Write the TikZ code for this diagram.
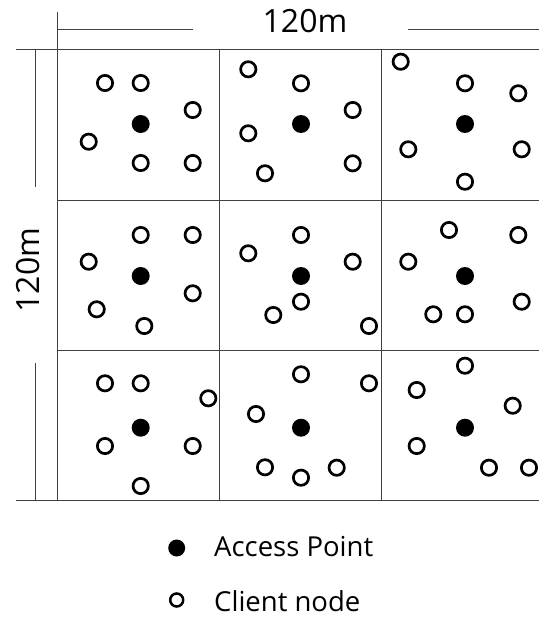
\documentclass[tikz,border=0pt]{standalone}
\usepackage{fontspec}
\setmainfont{Open Sans}
\begin{document}
\begin{tikzpicture}[x=1pt,y=-1pt,
  gridline/.style={draw=black!75,line width=1pt},
  client/.style={circle,draw=black,line width=2.7pt,minimum size=15.3pt,inner sep=0pt},
  ap/.style={circle,fill=black,minimum size=18pt,inner sep=0pt},
  lbl/.style={font=\fontsize{32}{36}\selectfont,inner sep=0pt},
  leg/.style={font=\fontsize{27.5}{30}\selectfont,inner sep=0pt,anchor=base west}]
\useasboundingbox (0,0) rectangle (539,618);
% grid
\draw[gridline] (16,50) -- (539,50);
\draw[gridline] (57,200) -- (539,200);
\draw[gridline] (57,350.5) -- (539,350.5);
\draw[gridline] (16,500) -- (539,500);
\draw[gridline] (57,12) -- (57,500);
\draw[gridline] (219,50) -- (219,500);
\draw[gridline] (381.5,50) -- (381.5,500);
% dimension lines
\draw[gridline] (57,30) -- (193,30);
\draw[gridline] (408,30) -- (539,30);
\draw[gridline] (35,50) -- (35,187);
\draw[gridline] (35,363) -- (35,500);
\node[lbl] (top) at (305,21) {120m};
\node[lbl,rotate=90] (left) at (28.5,270) {120m};
% access points
\foreach \x/\y [count=\i] in {140.7/124,301/124,465/124,140.7/276,301/276,465/276,140.7/427.7,301/427.7,465/427.7}
  \node[ap] (ap\i) at (\x,\y) {};
% clients
\foreach \x/\y [count=\i] in {
  105/83,140.7/83,192.7/110,88.7/141.7,140.7/163,192.7/163,
  248.3/69.3,248.3/133.3,265/173.3,301/83.3,352.7/110,352.7/163.3,
  400.7/61.7,465/83.3,518.3/93.3,408.3/149.3,521.7/149.3,465/181.7,
  140.7/235,192.7/235,88.7/261.7,192.7/293.3,96.7/309.3,144.3/326,
  248.3/253.3,301/235,352.7/261.7,301/301.7,273.3/315,369/326,
  449/230,518.3/235,408.3/261.7,521.7/301.7,433.3/314.3,465/314.3,
  105/383.3,140.7/383.3,208.3/398.3,105/446,192.7/446,140.7/486,
  256/414,265/467.3,301/374.3,369/383.3,301/477.7,336.7/467.7,
  465/365.7,416.7/390,512.7/405.7,416.7/446,489/467.7,529/467.7}
  \node[client] (cl\i) at (\x,\y) {};
% legend
\node[ap,minimum size=17pt] (legap) at (176.7,548) {};
\node[client,minimum size=13pt,line width=2.5pt] (legcl) at (176.7,600) {};
\node[leg] (legapt) at (214,556.5) {Access Point};
\node[leg] (legclt) at (214,611.5) {Client node};
\end{tikzpicture}
\end{document}
